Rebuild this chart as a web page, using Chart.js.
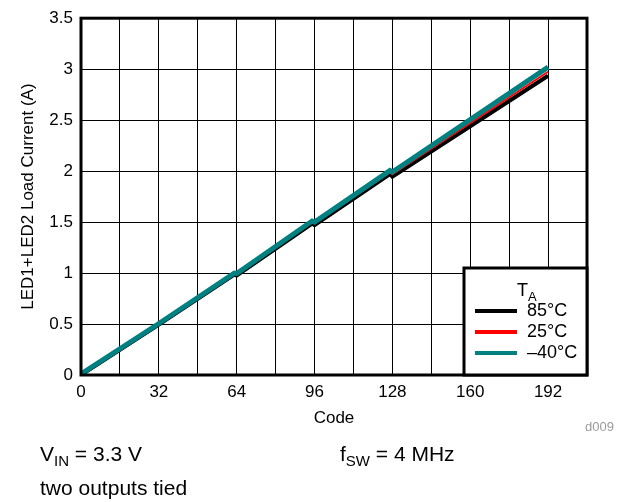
<!DOCTYPE html>
<html>
<head>
<meta charset="utf-8">
<script src="https://cdn.jsdelivr.net/npm/chart.js@4.4.0/dist/chart.umd.min.js"></script>
<style>
  html, body { margin: 0; padding: 0; background: #fff; }
  body { width: 624px; height: 502px; position: relative; overflow: hidden;
         font-family: "Liberation Sans", Arial, sans-serif; color: #000; }
  #wrap { position: absolute; left: 0; top: 0; width: 624px; height: 502px; }
  .note { position: absolute; font-size: 21px; line-height: 24px; white-space: nowrap; }
  .note sub { font-size: 15px; vertical-align: -5px; line-height: 0; }
  #tag { position: absolute; left: 585px; top: 419px; font-size: 13px; color: #9a9a9a; }
</style>
</head>
<body>
<div id="wrap"><canvas id="ledChart" width="624" height="502"></canvas></div>
<div class="note" style="left:40px; top:442px;">V<sub>IN</sub> = 3.3 V</div>
<div class="note" style="left:340px; top:442px;">f<sub>SW</sub> = 4 MHz</div>
<div class="note" style="left:40px; top:476px;">two outputs tied</div>
<div id="tag">d009</div>
<script>
// code values (x) and load current (A) for each ambient temperature
let codes = [0, 32, 63, 64, 95, 96, 127, 128, 160, 192];
let current85 = [0, 0.495, 0.985, 0.975, 1.485, 1.47, 1.97, 1.945, 2.44, 2.935];
let current25 = [0, 0.5, 0.995, 0.985, 1.5, 1.49, 1.99, 1.97, 2.47, 2.975];
let currentM40 = [0.01, 0.505, 1.0, 0.995, 1.51, 1.5, 2.005, 1.99, 2.505, 3.02];
let seriesLabels = ['85°C', '25°C', '\u201340°C'];
let seriesColors = ['#000000', '#ff0000', '#008080'];
let xTicks = [0, 32, 64, 96, 128, 160, 192];

function toPoints(arr) {
  return codes.map((c, i) => ({ x: c, y: arr[i] }));
}

const framePlugin = {
  id: 'frame',
  afterDraw(chart) {
    const ctx = chart.ctx;
    const a = chart.chartArea;
    ctx.save();
    ctx.strokeStyle = '#000';
    ctx.lineWidth = 3;
    ctx.strokeRect(a.left, a.top, a.right - a.left, a.bottom - a.top);

    // legend box in lower right corner
    const w = 123, h = 107;
    const bx = a.right - w, by = a.bottom - h;
    ctx.fillStyle = '#fff';
    ctx.fillRect(bx, by, w, h);
    ctx.strokeRect(bx, by, w, h);

    ctx.fillStyle = '#000';
    ctx.textBaseline = 'middle';
    ctx.textAlign = 'left';
    ctx.font = '18px "Liberation Sans", Arial, sans-serif';
    ctx.fillText('T', bx + 53, by + 23);
    ctx.font = '13px "Liberation Sans", Arial, sans-serif';
    ctx.fillText('A', bx + 64, by + 29);

    ctx.font = '18px "Liberation Sans", Arial, sans-serif';
    seriesLabels.forEach((lab, i) => {
      const y = by + 43 + i * 21;
      ctx.strokeStyle = seriesColors[i];
      ctx.lineWidth = 4;
      ctx.beginPath();
      ctx.moveTo(bx + 11, y);
      ctx.lineTo(bx + 53, y);
      ctx.stroke();
      ctx.fillStyle = '#000';
      ctx.fillText(lab, bx + 63, y);
    });
    ctx.restore();
  }
};

const ctx = document.getElementById('ledChart').getContext('2d');
const chart = new Chart(ctx, {
  type: 'line',
  data: {
    datasets: [
      { label: seriesLabels[0], data: toPoints(current85), borderColor: seriesColors[0], borderWidth: 4, order: 3 },
      { label: seriesLabels[1], data: toPoints(current25), borderColor: seriesColors[1], borderWidth: 2, order: 2 },
      { label: seriesLabels[2], data: toPoints(currentM40), borderColor: seriesColors[2], borderWidth: 5, order: 1 }
    ]
  },
  options: {
    responsive: false,
    animation: false,
    events: [],
    elements: { point: { radius: 0 }, line: { tension: 0, borderJoinStyle: 'miter' } },
    layout: { padding: { left: 18, top: 17, right: 37, bottom: 73 } },
    plugins: { legend: { display: false }, tooltip: { enabled: false } },
    scales: {
      x: {
        type: 'linear',
        min: 0, max: 208,
        ticks: {
          stepSize: 16,
          autoSkip: false,
          maxRotation: 0,
          padding: 7,
          color: '#000',
          font: { family: '"Liberation Sans", Arial, sans-serif', size: 17 },
          callback: v => xTicks.includes(v) ? String(v) : ''
        },
        grid: { color: '#000', lineWidth: 1, drawTicks: false },
        border: { display: false },
        title: {
          display: true, text: 'Code', color: '#000',
          font: { family: '"Liberation Sans", Arial, sans-serif', size: 17 },
          padding: { top: 0, bottom: 0 }
        },
        afterFit: s => { s.height = 54; }
      },
      y: {
        min: 0, max: 3.5,
        ticks: {
          stepSize: 0.5,
          padding: 8,
          color: '#000',
          font: { family: '"Liberation Sans", Arial, sans-serif', size: 17 },
          callback: v => String(v)
        },
        grid: { color: '#000', lineWidth: 1, drawTicks: false },
        border: { display: false },
        title: {
          display: true, text: 'LED1+LED2 Load Current (A)', color: '#000',
          font: { family: '"Liberation Sans", Arial, sans-serif', size: 17 },
          padding: { top: 0, bottom: 0 }
        },
        afterFit: s => { s.width = 63; }
      }
    }
  },
  plugins: [framePlugin]
});
</script>
</body>
</html>
